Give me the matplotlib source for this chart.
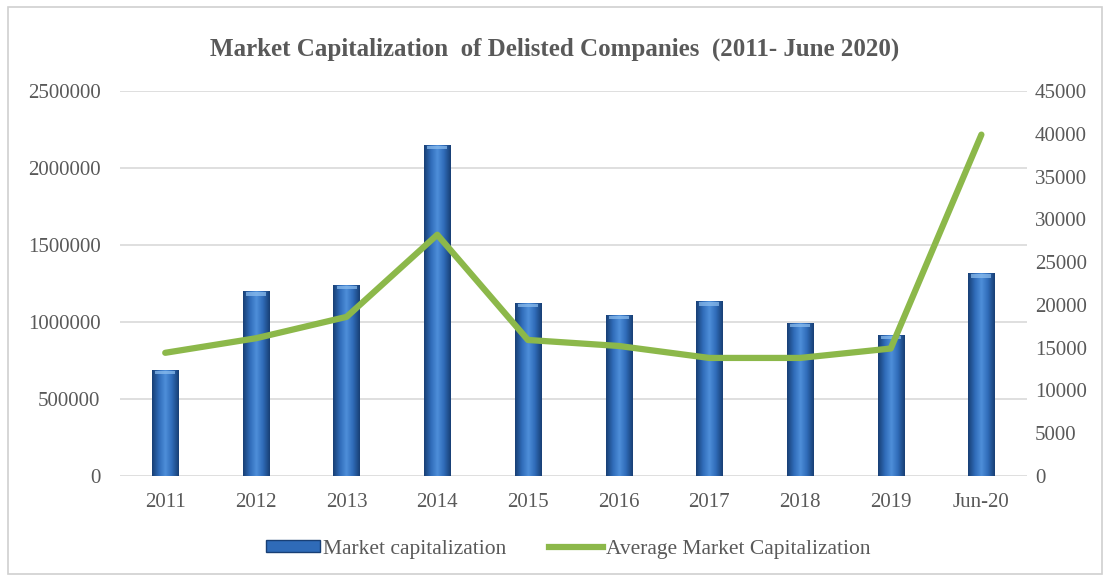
import numpy as np
import matplotlib.pyplot as plt
from matplotlib.colors import LinearSegmentedColormap
from matplotlib.patches import Rectangle

years = ["2011", "2012", "2013", "2014", "2015", "2016", "2017", "2018", "2019", "Jun-20"]
market_cap = [690000, 1200000, 1240000, 2150000, 1125000, 1045000, 1135000, 995000, 915000, 1315000]
avg_market_cap = [14400, 16100, 18600, 28200, 15900, 15200, 13800, 13800, 14900, 39900]

left_ticks = [0, 500000, 1000000, 1500000, 2000000, 2500000]
right_ticks = list(range(0, 45001, 5000))

plt.rcParams['font.family'] = ['Liberation Serif', 'DejaVu Serif']
txt = '#595959'
grid_c = '#d9d9d9'
green = '#8cb84a'

fig = plt.figure(figsize=(11.1, 5.81), dpi=100)
ax = fig.add_axes([0.108, 0.1807, 0.817, 0.6627])

x = np.arange(len(years))
bars = ax.bar(x, market_cap, width=0.29, color='#2e65b0', zorder=2)

# cylinder-like shading: horizontal gradient clipped to each bar
shade = LinearSegmentedColormap.from_list(
    'cyl', ['#183f75', '#2f6bb8', '#4e8fda', '#2f6bb8', '#183f75'])
grad = np.linspace(0, 1, 64).reshape(1, -1)
for b in bars:
    x0, w, h = b.get_x(), b.get_width(), b.get_height()
    im = ax.imshow(grad, cmap=shade, aspect='auto', extent=[x0, x0 + w, 0, h],
                   zorder=2.1, interpolation='bilinear')
    im.set_clip_path(b)
    cap = Rectangle((x0 + w * 0.12, h - 28000), w * 0.76, 22000,
                    color='#8fc0f0', alpha=0.7, zorder=2.2, lw=0)
    ax.add_patch(cap)

ax.set_xlim(-0.5, len(years) - 0.5)
ax.set_ylim(0, 2500000)
ax.set_yticks(left_ticks)
ax.set_yticklabels([str(v) for v in left_ticks])
ax.set_xticks(x)
ax.set_xticklabels(years)
ax.grid(axis='y', color=grid_c, lw=1.2, zorder=0)
ax.set_axisbelow(True)
for s in ax.spines.values():
    s.set_visible(False)
ax.tick_params(length=0, colors=txt, labelsize=15)
ax.tick_params(axis='y', pad=14)
ax.tick_params(axis='x', pad=12)

ax2 = ax.twinx()
ax2.plot(x, avg_market_cap, color=green, lw=4.5, solid_capstyle='round', zorder=3)
ax2.set_ylim(0, 45000)
ax2.set_yticks(right_ticks)
ax2.set_yticklabels([str(v) for v in right_ticks])
for s in ax2.spines.values():
    s.set_visible(False)
ax2.tick_params(length=0, colors=txt, labelsize=15, pad=6)

fig.text(0.5, 0.916, "Market Capitalization  of Delisted Companies  (2011- June 2020)",
         ha='center', va='center', fontsize=18, fontweight='bold', color=txt)

handles = [Rectangle((0, 0), 1, 1, facecolor='#2f6bb8', edgecolor='#183f75'),
           plt.Line2D([0], [0], color=green, lw=4.5)]
fig.legend(handles, ["Market capitalization", "Average Market Capitalization"],
           loc='center', bbox_to_anchor=(0.512, 0.055), ncol=2, frameon=False,
           fontsize=15.5, labelcolor=txt, handlelength=2.5, handleheight=0.45,
           handletextpad=0.15, columnspacing=2.0)

fig.patches.append(Rectangle((0.007, 0.012), 0.986, 0.976, transform=fig.transFigure,
                             fill=False, edgecolor='#d0d0d0', lw=1.2))

fig.savefig('out.png', dpi=100)
